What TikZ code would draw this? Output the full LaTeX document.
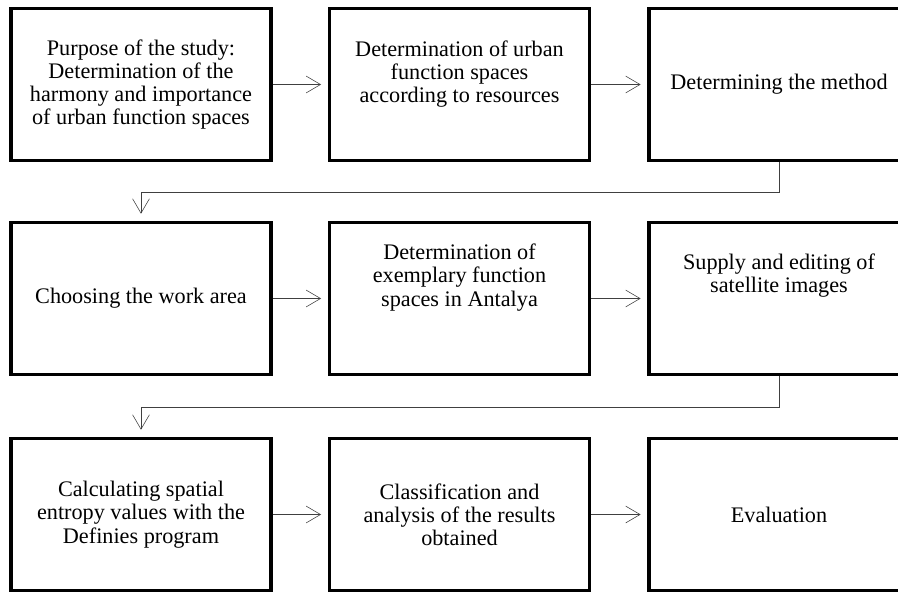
\documentclass[tikz,border=0pt]{standalone}
\usepackage{fontspec}
\setmainfont{Liberation Serif}
\usepackage{tikz}
\usetikzlibrary{arrows.meta}

\tikzset{
	stage/.style={draw=black, line width=2.2pt, minimum width=6.5cm, minimum height=3.82cm,
		align=center, font=\fontsize{15.8}{16.5}\selectfont, inner sep=0pt},
	lifted/.style={text depth=#1}
}

\begin{document}
\begin{tikzpicture}[x=0.025cm, y=-0.025cm]

\path[use as bounding box, clip] (0,0) rectangle (898,592);
\fill[white] (0,0) rectangle (898,592);
	
\begin{scope}
	\node[stage] (A) at (141,84.5) {Purpose of the study:\\Determination of the\\harmony and importance\\of urban function spaces};
	\node[stage, lifted=0.65cm] (B) at (459.5,84.5) {Determination of urban\\function spaces\\according to resources};
	\node[stage] (C) at (779,84.5) {Determining the method};
	
	\node[stage] (D) at (141,298.5) {Choosing the work area};
	\node[stage, lifted=1.17cm] (E) at (459.5,298.5) {Determination of\\exemplary function\\spaces in Antalya};
	\node[stage, lifted=1.27cm] (F) at (779,298.5) {Supply and editing of\\satellite images};
	
	\node[stage] (G) at (141,514.5) {Calculating spatial\\entropy values with the\\Definies program};
	\node[stage] (H) at (459.5,514.5) {Classification and\\analysis of the results\\obtained};
	\node[stage] (I) at (779,514.5) {Evaluation};
\end{scope}

\begin{scope}[>={Straight Barb[length=0.36cm, width=0.42cm]}, every edge/.style={draw=black!75, thin, shorten >=0.17cm}]

    \path [->] (A) edge (B);
    \path [->] (B) edge (C);
    
    \path [->] (D) edge (E);
    \path [->] (E) edge (F);
    
    \path [->] (G) edge (H);
    \path [->] (H) edge (I);
    
    \draw [->, draw=black!75, thin, shorten >=0.17cm] (C.south) -- ++(0,30) -| (D.north);
    \draw [->, draw=black!75, thin, shorten >=0.17cm] (F.south) -- ++(0,31) -| (G.north);

\end{scope}

\end{tikzpicture}
\end{document}
